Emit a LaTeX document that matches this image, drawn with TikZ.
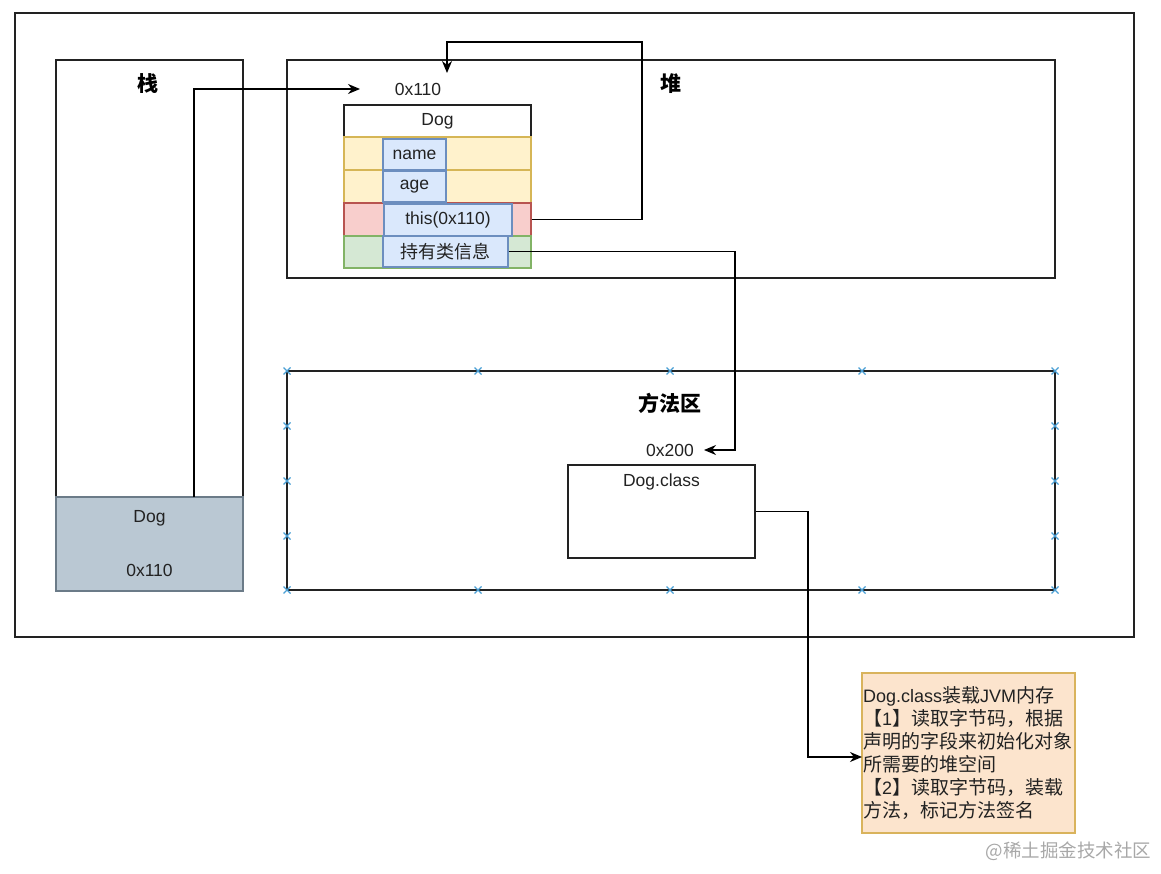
\documentclass[tikz,border=0pt]{standalone}
\usepackage{fontspec}
\setmainfont{Liberation Sans}
\newfontfamily\cjk{Noto Sans CJK SC}
\usetikzlibrary{arrows.meta}
\definecolor{lineC}{HTML}{222222}
\definecolor{stackF}{HTML}{BAC8D3}
\definecolor{stackD}{HTML}{6B7B88}
\definecolor{yelF}{HTML}{FFF2CC}
\definecolor{yelD}{HTML}{D6B656}
\definecolor{redF}{HTML}{F8CECC}
\definecolor{redD}{HTML}{B85450}
\definecolor{grnF}{HTML}{D5E8D4}
\definecolor{grnD}{HTML}{82B366}
\definecolor{bluF}{HTML}{DAE8FC}
\definecolor{bluD}{HTML}{6C8EBF}
\definecolor{noteF}{HTML}{FCE4CD}
\definecolor{noteD}{HTML}{D9B35C}
\definecolor{mark}{HTML}{4A9FD5}
\definecolor{wm}{HTML}{A8A8A8}
\tikzset{
  base/.style={font=\fontsize{17.5}{21}\selectfont, text=lineC},
  frame/.style={draw=lineC, line width=1.3pt, rectangle, inner sep=0pt},
  fld/.style={rectangle, line width=1.1pt, inner sep=0pt, minimum width=187pt},
  inner/.style={rectangle, fill=bluF, draw=bluD, line width=1.1pt, inner sep=0pt},
  title/.style={font=\fontsize{21}{24}\selectfont\cjk\bfseries, text=black},
  arr/.style={draw=black, line width=1.3pt, -{Stealth[length=12pt,width=10pt]}},
  mk/.style={draw=mark, line width=1.3pt},
}
\begin{document}
\begin{tikzpicture}[x=1pt,y=-1pt, base]
\useasboundingbox (0,0) rectangle (1161,874);
% outer frame
\node[frame, minimum width=1119pt, minimum height=624pt] (outer) at (574.5,325) {};
% stack
\node[frame, minimum width=187pt, minimum height=531pt] (stack) at (149.5,325.5) {};
\node[title] (stacktitle) at (148,84) {栈};
\node[rectangle, fill=stackF, draw=stackD, line width=1.3pt, minimum width=187pt, minimum height=94pt, align=center, inner sep=0pt] (stackdog) at (149.5,544) {Dog\\[33pt]0x110};
% heap
\node[frame, minimum width=768pt, minimum height=218pt] (heap) at (671,169) {};
\node[title] (heaptitle) at (671,84) {堆};
\node (addr110) at (418,89) {0x110};
\node[fld, draw=lineC, fill=white, minimum height=32pt] (doghead) at (437.5,121) {Dog};
\node[fld, draw=yelD, fill=yelF, minimum height=33pt] (rowname) at (437.5,153.5) {};
\node[fld, draw=yelD, fill=yelF, minimum height=33pt] (rowage) at (437.5,186.5) {};
\node[fld, draw=redD, fill=redF, minimum height=33pt] (rowthis) at (437.5,219.5) {};
\node[fld, draw=grnD, fill=grnF, minimum height=32pt] (rowinfo) at (437.5,252) {};
\node[inner, minimum width=63pt, minimum height=31pt] (bname) at (414.5,154.5) {name};
\node[inner, minimum width=63pt, minimum height=31pt] (bage) at (414.5,186.5) {age};
\node[inner, minimum width=128pt, minimum height=32pt] (bthis) at (448,220) {this(0x110)};
\node[inner, minimum width=125pt, minimum height=31pt, font=\fontsize{18}{21}\selectfont\cjk] (binfo) at (445.5,251.5) {持有类信息};
% method area
\node[frame, minimum width=768pt, minimum height=219pt] (method) at (671,480.5) {};
\node[title] (methodtitle) at (670,403) {方法区};
\foreach \x in {287,478,670,862,1055} {
  \foreach \y in {371,590} {
    \draw[mk] (\x-3.5,\y-3.5) -- (\x+3.5,\y+3.5) (\x-3.5,\y+3.5) -- (\x+3.5,\y-3.5);
  }
}
\foreach \y in {426,481,536} {
  \foreach \x in {287,1055} {
    \draw[mk] (\x-3.5,\y-3.5) -- (\x+3.5,\y+3.5) (\x-3.5,\y+3.5) -- (\x+3.5,\y-3.5);
  }
}
\node (addr200) at (670,450) {0x200};
\node[frame, minimum width=187pt, minimum height=93pt,
      label={[anchor=north, inner sep=0pt, yshift=-9pt]north:Dog.class}] (dogclass) at (661.5,511.5) {};
% note
\node[rectangle, fill=noteF, draw=noteD, line width=1.3pt, minimum width=213pt, minimum height=160pt,
      text width=211pt, inner sep=1pt, align=left, font=\fontsize{18}{23}\selectfont] (note) at (968.5,753)
{Dog.class{\fontsize{19}{23}\cjk 装载}JVM{\fontsize{19}{23}\cjk 内存}\\
{\fontsize{19}{23}\cjk 【}1{\fontsize{19}{23}\cjk 】读取字节码，根据}\\
{\fontsize{19}{23}\cjk 声明的字段来初始化对象}\\
{\fontsize{19}{23}\cjk 所需要的堆空间}\\
{\fontsize{19}{23}\cjk 【}2{\fontsize{19}{23}\cjk 】读取字节码，装载}\\
{\fontsize{19}{23}\cjk 方法，标记方法签名}};
% watermark
\node[text=wm, font=\fontsize{18.5}{20}\selectfont\cjk, anchor=east] (wmark) at (1155,851) {@稀土掘金技术社区};
% connectors
\coordinate (s1) at (194,497);
\coordinate (t1) at (360,89);
\draw[arr] (s1) |- (t1);
\coordinate (t2) at (447,73);
\draw[arr] (rowthis.east) -- (642,219.5) -- (642,42) -| (t2);
\coordinate (t3) at (704,450);
\draw[arr] (binfo.east) -| (735,450) -- (t3);
\coordinate (t4) at (862,757);
\draw[arr] (dogclass.east) -| (808,757) -- (t4);
\end{tikzpicture}
\end{document}
